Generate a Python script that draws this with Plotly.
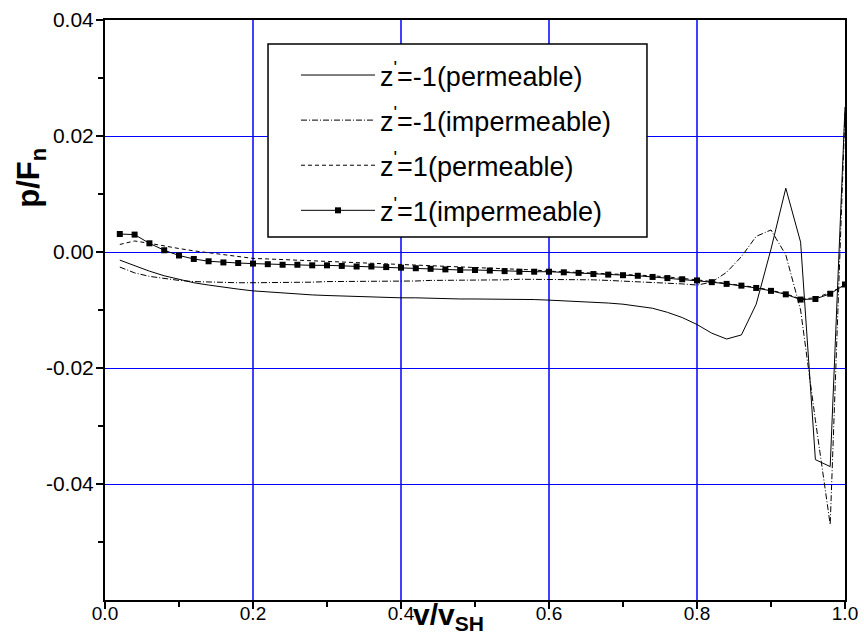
import plotly.graph_objects as go

x_vals = [round(0.02 * i, 2) for i in range(1, 51)]

# z'=-1 (permeable) - solid
solid_perm_m1 = [
    -0.0014, -0.0024, -0.0033, -0.0041, -0.0047, -0.0053, -0.0057, -0.0061, -0.0064, -0.0067,
    -0.0069, -0.0071, -0.0073, -0.0074, -0.0075, -0.0076, -0.0077, -0.0077, -0.0078, -0.0079,
    -0.0079, -0.0080, -0.0080, -0.0081, -0.0081, -0.0081, -0.0082, -0.0082, -0.0082, -0.0083,
    -0.0084, -0.0085, -0.0086, -0.0088, -0.0090, -0.0093, -0.0097, -0.0104, -0.0113, -0.0125,
    -0.0140, -0.0150, -0.0143, -0.0090, 0.0005, 0.0110, 0.0017, -0.0358, -0.0370, 0.0250,
]

# z'=-1 (impermeable) - dash-dot
dashdot_imp_m1 = [
    -0.0026, -0.0036, -0.0042, -0.0046, -0.0049, -0.0051, -0.0052, -0.0053, -0.0053, -0.0053,
    -0.0053, -0.0052, -0.0052, -0.0052, -0.0051, -0.0051, -0.0051, -0.0050, -0.0050, -0.0050,
    -0.0050, -0.0049, -0.0049, -0.0049, -0.0049, -0.0048, -0.0048, -0.0047, -0.0047, -0.0047,
    -0.0047, -0.0048, -0.0048, -0.0049, -0.0050, -0.0051, -0.0052, -0.0054, -0.0055, -0.0057,
    -0.0052, -0.0035, -0.0008, 0.0027, 0.0038, -0.0005, -0.0100, -0.0290, -0.0470, 0.0240,
]

# z'=1 (permeable) - dashed
dash_perm_p1 = [
    0.0013, 0.0019, 0.0015, 0.0010, 0.0006, 0.0002, -0.0001, -0.0004, -0.0008, -0.0011,
    -0.0012, -0.0013, -0.0014, -0.0015, -0.0016, -0.0017, -0.0018, -0.0019, -0.0020, -0.0021,
    -0.0022, -0.0023, -0.0024, -0.0025, -0.0027, -0.0028, -0.0029, -0.0030, -0.0031, -0.0033,
    -0.0034, -0.0035, -0.0036, -0.0037, -0.0039, -0.0040, -0.0041, -0.0043, -0.0045, -0.0048,
    -0.0051, -0.0054, -0.0057, -0.0061, -0.0066, -0.0072, -0.0081, -0.0079, -0.0070, -0.0057,
]

# z'=1 (impermeable) - solid with squares
sq_imp_p1 = [
    0.0031, 0.0030, 0.0015, 0.0003, -0.0006, -0.0012, -0.0016, -0.0018, -0.0019, -0.0020,
    -0.0021, -0.0022, -0.0022, -0.0023, -0.0023, -0.0024, -0.0025, -0.0025, -0.0026, -0.0027,
    -0.0028, -0.0029, -0.0030, -0.0031, -0.0031, -0.0032, -0.0033, -0.0034, -0.0034, -0.0034,
    -0.0035, -0.0036, -0.0038, -0.0039, -0.0040, -0.0041, -0.0043, -0.0045, -0.0047, -0.0049,
    -0.0052, -0.0055, -0.0058, -0.0062, -0.0067, -0.0073, -0.0082, -0.0081, -0.0072, -0.0056,
]

series_names = [
    "z<sup>'</sup>=-1(permeable)",
    "z<sup>'</sup>=-1(impermeable)",
    "z<sup>'</sup>=1(permeable)",
    "z<sup>'</sup>=1(impermeable)",
]

x_ticks = [0.0, 0.2, 0.4, 0.6, 0.8, 1.0]
x_tick_text = ["0.0", "0.2", "0.4", "0.6", "0.8", "1.0"]
y_ticks = [0.04, 0.02, 0.0, -0.02, -0.04]
y_tick_text = ["0.04", "0.02", "0.00", "-0.02", "-0.04"]

FONT = "Liberation Sans, Arial, sans-serif"

fig = go.Figure()
fig.add_trace(go.Scatter(x=x_vals, y=solid_perm_m1, mode="lines", name=series_names[0],
                         legendgroup="a", line=dict(color="black", width=1)))
fig.add_trace(go.Scatter(x=x_vals, y=dashdot_imp_m1, mode="lines", name=series_names[1],
                         legendgroup="b", line=dict(color="black", width=1, dash="6px,2px,1px,2px")))
fig.add_trace(go.Scatter(x=x_vals, y=dash_perm_p1, mode="lines", name=series_names[2],
                         legendgroup="c", line=dict(color="black", width=1, dash="4px,3px")))
fig.add_trace(go.Scatter(x=x_vals, y=sq_imp_p1, mode="lines+markers", name=series_names[3],
                         legendgroup="d", line=dict(color="black", width=1),
                         marker=dict(symbol="square", size=6, color="black")))

fig.update_layout(
    width=864, height=633,
    margin=dict(l=105, r=19, t=20, b=33, autoexpand=False),
    paper_bgcolor="white", plot_bgcolor="white",
    showlegend=True,
    legend=dict(
        x=0.2581, y=0.9466, xanchor="left", yanchor="top",
        bgcolor="rgba(0,0,0,0)", borderwidth=0,
        font=dict(family=FONT, size=27, color="black"),
        tracegroupgap=7, itemwidth=74,
    ),
    shapes=[
        dict(type="rect", xref="paper", yref="paper",
             x0=0.2203, x1=0.7324, y0=0.6259, y1=0.9586,
             fillcolor="white", line=dict(color="black", width=1.5), layer="above"),
    ],
    xaxis=dict(
        range=[0, 1.0], tickvals=x_ticks, ticktext=x_tick_text, automargin=False,
        showgrid=True, gridcolor="#4040ff", gridwidth=2,
        showline=True, linecolor="black", linewidth=2, mirror=True,
        ticks="outside", ticklen=7, tickwidth=1.5, tickcolor="black",
        minor=dict(tickvals=[0.1, 0.3, 0.5, 0.7, 0.9], ticks="outside", ticklen=5,
                   tickwidth=1.5, tickcolor="black", showgrid=False),
        tickfont=dict(family=FONT, size=19, color="black"),
        ticklabelstandoff=-12, zeroline=False,
    ),
    yaxis=dict(
        range=[-0.06, 0.04], tickvals=y_ticks, ticktext=y_tick_text, automargin=False,
        showgrid=True, gridcolor="#0000ff", gridwidth=1,
        showline=True, linecolor="black", linewidth=2, mirror=True,
        ticks="outside", ticklen=7, tickwidth=1.5, tickcolor="black",
        minor=dict(tickvals=[0.03, 0.01, -0.01, -0.03, -0.05], ticks="outside", ticklen=5,
                   tickwidth=1.5, tickcolor="black", showgrid=False),
        tickfont=dict(family=FONT, size=21, color="black"),
        ticklabelstandoff=-2, zeroline=False,
    ),
    annotations=[
        dict(text="<b>p/F<sub>n</sub></b>", xref="paper", yref="paper",
             x=-0.1, y=0.728, xanchor="center", yanchor="middle", textangle=-90,
             showarrow=False, font=dict(family=FONT, size=31, color="black")),
        dict(text="<b>v/v<sub>SH</sub></b>", xref="paper", yref="paper",
             x=0.464, y=-0.028, xanchor="center", yanchor="middle", showarrow=False,
             font=dict(family=FONT, size=30, color="black")),
    ],
)

fig.write_html("out.html")
